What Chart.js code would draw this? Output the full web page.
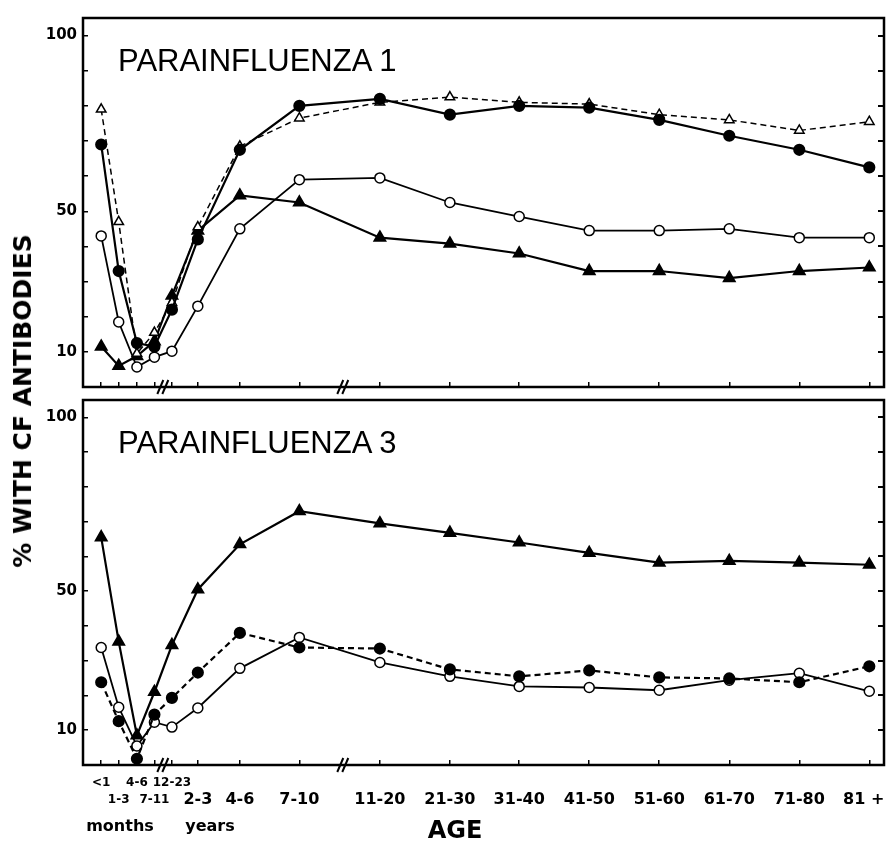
<!DOCTYPE html>
<html>
<head>
<meta charset="utf-8">
<script src="https://cdn.jsdelivr.net/npm/chart.js@4.4.1/dist/chart.umd.min.js"></script>
<style>
body { margin: 0; background: #fff; }
#wrap { position: relative; width: 886px; height: 841px; }
canvas { position: absolute; left: 0; }
#topChart { top: 0; }
#bottomChart { top: 395px; }
.lbl { position: absolute; white-space: nowrap; color: #000; }
.panel { left: 118px; font: 31px/36px "Liberation Sans", Arial, sans-serif; }
.bold { font-family: "DejaVu Sans", sans-serif; font-weight: bold; }
#ytitle { left: 23px; top: 401px; font-size: 25px; line-height: 30px; transform: translate(-50%, -50%) rotate(-90deg); }
.unit { font-size: 16px; line-height: 20px; top: 816px; transform: translateX(-50%); }
#xtitle { left: 455px; top: 816px; font-size: 24px; line-height: 28px; transform: translateX(-50%); }
</style>
</head>
<body>
<div id="wrap">
  <canvas id="topChart" width="886" height="395"></canvas>
  <canvas id="bottomChart" width="886" height="446"></canvas>
  <div class="lbl panel" style="top:43px">PARAINFLUENZA 1</div>
  <div class="lbl panel" style="top:425px">PARAINFLUENZA 3</div>
  <div class="lbl bold" id="ytitle">% WITH CF ANTIBODIES</div>
  <div class="lbl bold unit" style="left:120px">months</div>
  <div class="lbl bold unit" style="left:210px">years</div>
  <div class="lbl bold" id="xtitle">AGE</div>
</div>
<script>
"use strict";

const categories = ["<1", "1-3", "4-6", "7-11", "12-23", "2-3", "4-6", "7-10", "11-20", "21-30", "31-40", "41-50", "51-60", "61-70", "71-80", "81 +"];
// axis position of each age group (months and years are drawn on a broken scale)
const xPos = [2.6, 5.1, 7.7, 10.2, 12.7, 16.4, 22.4, 30.9, 42.4, 52.4, 62.3, 72.3, 82.3, 92.3, 102.3, 112.3];
const breaks = [11.4, 37.1];
const yTickVals = [0, 10, 20, 30, 40, 50, 60, 70, 80, 90, 100];
const yLabelled = [10, 50, 100];

// parainfluenza 1
const p1FilledCircle = [69, 33, 12.5, 11.5, 22, 42, 67.5, 80, 82, 77.5, 80, 79.5, 76, 71.5, 67.5, 62.5];
const p1OpenTriangle = [79, 47, 9.5, 15.5, 24, 45.5, 68.5, 76.5, 81, 82.5, 81, 80.5, 77.5, 76, 73, 75.5];
const p1OpenCircle = [43, 18.5, 5.7, 8.5, 10.2, 23, 45, 59, 59.5, 52.5, 48.5, 44.5, 44.5, 45, 42.5, 42.5];
const p1FilledTriangle = [11.5, 6, 8.8, 13, 26, 44.5, 54.5, 52.5, 42.5, 40.8, 38, 33, 33, 31, 33, 34];

// parainfluenza 3
const p3FilledTriangle = [65.5, 35.5, 8.5, 21, 34.5, 50.5, 63.5, 73, 69.5, 66.8, 64, 61, 58.2, 58.7, 58.2, 57.6];
const p3FilledCircle = [23.8, 12.6, 1.8, 14.5, 19.3, 26.6, 38, 33.8, 33.5, 27.5, 25.5, 27.2, 25.2, 24.9, 23.8, 28.4];
const p3OpenCircle = [33.8, 16.6, 5.5, 12.3, 10.9, 16.4, 27.8, 36.7, 29.5, 25.5, 22.6, 22.3, 21.5, 24.4, 26.4, 21.2];

var tickLines = categories.map(function (c, i) {
    if (i === categories.length - 1) return ["", c + "\u00a0\u00a0"];   // keep the last label inside the canvas
    return (i < 5 && i % 2 === 0) ? [c] : ["", c];
});

var styles = {
    filledCircle: { pointStyle: "circle", pointRadius: 5, pointBackgroundColor: "#000", borderWidth: 2.2 },
    openCircle: { pointStyle: "circle", pointRadius: 5, pointBackgroundColor: "#fff", pointBorderWidth: 1.5, borderWidth: 1.8 },
    filledTriangle: { pointStyle: "triangle", pointRadius: 6, pointBackgroundColor: "#000", borderWidth: 2.2 },
    openTriangle: { pointStyle: "triangle", pointRadius: 5.5, pointBackgroundColor: "#fff", pointBorderWidth: 1.5, borderWidth: 1.5 }
};

function series(values, style, dashed) {
    return Object.assign({
        data: values.map(function (v, i) { return { x: xPos[i], y: v }; }),
        borderColor: "#000",
        pointBorderColor: "#000",
        tension: 0,
        borderDash: dashed ? [6, 4] : []
    }, styles[style]);
}

var framePlugin = {
    id: "frame",
    afterDraw: function (chart) {
        var a = chart.chartArea, ctx = chart.ctx, xs = chart.scales.x;
        ctx.save();
        ctx.strokeStyle = "#000";
        ctx.lineWidth = 2.5;
        ctx.strokeRect(a.left, a.top, a.right - a.left, a.bottom - a.top);
        ctx.lineWidth = 2;
        breaks.forEach(function (b) {
            var px = xs.getPixelForValue(b);
            [-2.5, 2.5].forEach(function (d) {
                ctx.beginPath();
                ctx.moveTo(px + d - 3, a.bottom + 7);
                ctx.lineTo(px + d + 3, a.bottom - 7);
                ctx.stroke();
            });
        });
        ctx.restore();
    }
};

function yTicks(scale) {
    scale.ticks = yTickVals.map(function (v) { return { value: v }; });
}

function makeChart(canvas, datasets, showLabels, padTop, xHeight) {
    return new Chart(canvas, {
        type: "line",
        data: { datasets: datasets },
        options: {
            responsive: false,
            animation: false,
            layout: { autoPadding: false, padding: { top: padTop, left: 0, right: 0, bottom: 0 } },
            plugins: { legend: { display: false }, tooltip: { enabled: false } },
            scales: {
                x: {
                    type: "linear", min: 0, max: 114.4,
                    afterBuildTicks: function (s) { s.ticks = xPos.map(function (v) { return { value: v }; }); },
                    afterFit: function (s) { s.height = xHeight; s.paddingLeft = 0; s.paddingRight = 0; },
                    border: { display: false },
                    grid: { drawOnChartArea: false, tickLength: -5, color: "#000", lineWidth: 1.5 },
                    ticks: {
                        display: showLabels, autoSkip: false, maxRotation: 0, minRotation: 0, padding: 14, color: "#000",
                        font: function (ctx) {
                            return { family: "DejaVu Sans", weight: "bold", size: ctx.index < 5 ? 12 : 16, lineHeight: "17px" };
                        },
                        callback: function (v, i) { return tickLines[i]; }
                    }
                },
                y: {
                    min: 0, max: 105,
                    afterBuildTicks: yTicks,
                    afterFit: function (s) { s.width = 83; s.paddingTop = 0; s.paddingBottom = 0; },
                    border: { display: false },
                    grid: { drawOnChartArea: false, tickLength: -5, color: "#000", lineWidth: 1.5 },
                    ticks: {
                        padding: 11, color: "#000",
                        font: { family: "DejaVu Sans", weight: "bold", size: 15 },
                        callback: function (v) { return yLabelled.indexOf(v) >= 0 ? String(v) : ""; }
                    }
                },
                yR: {
                    position: "right", min: 0, max: 105,
                    afterBuildTicks: yTicks,
                    afterFit: function (s) { s.width = 2; s.paddingTop = 0; s.paddingBottom = 0; },
                    border: { display: false },
                    grid: { drawOnChartArea: false, tickLength: -6, color: "#000", lineWidth: 2 },
                    ticks: { display: false }
                }
            }
        },
        plugins: [framePlugin]
    });
}

makeChart(document.getElementById("topChart"), [
    series(p1FilledCircle, "filledCircle", false),
    series(p1OpenTriangle, "openTriangle", true),
    series(p1OpenCircle, "openCircle", false),
    series(p1FilledTriangle, "filledTriangle", false)
], false, 18, 8);

makeChart(document.getElementById("bottomChart"), [
    series(p3FilledTriangle, "filledTriangle", false),
    series(p3FilledCircle, "filledCircle", true),
    series(p3OpenCircle, "openCircle", false)
], true, 5, 76);
</script>
</body>
</html>
